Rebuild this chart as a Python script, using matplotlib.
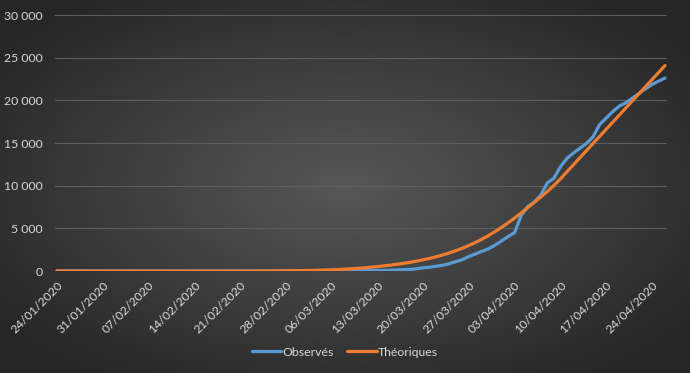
import numpy as np
import pandas as pd
import matplotlib
matplotlib.use('Agg')
import matplotlib.pyplot as plt
from matplotlib.ticker import FuncFormatter

plt.rcParams['font.family'] = ['Lato', 'DejaVu Sans']

# Dates (une valeur par jour, du 24/01/2020 au 26/04/2020)
dates = pd.date_range('2020-01-24', '2020-04-26', freq='D')

# Décès observés (cumul)
observes = ([0] * 23 + [1] * 11 + [2] * 4 +
            [2, 3, 4, 4, 6, 9, 11, 19, 25, 33, 48, 61, 79, 91, 127, 148, 175,
             264, 372, 450, 562, 674, 860, 1100, 1331, 1696, 1995, 2314, 2606,
             3024, 3523, 4032, 4503, 6507, 7560, 8078, 8911, 10328, 10869,
             12210, 13197, 13832, 14393, 14967, 15729, 17167, 17920, 18681,
             19323, 19718, 20265, 20796, 21340, 21856, 22245, 22614])

# Courbe théorique
theoriques = ([0] * 30 +
              [5, 8, 11, 15, 20, 27, 35, 45, 58, 73, 92, 115, 142, 175, 213,
               258, 310, 370, 438, 515,
               600, 690, 790, 900, 1020, 1160, 1310, 1480, 1670, 1880, 2120,
               2380, 2670, 2990, 3340, 3730, 4160, 4620, 5120, 5650, 6210,
               6800, 7420, 8040, 8670, 9320, 10020, 10800, 11630, 12460,
               13290, 14120, 14950, 15780, 16610, 17440, 18270, 19100, 19930,
               20760, 21590, 22420, 23250, 24080])

txt = '#d9d9d9'

fig = plt.figure(figsize=(6.9, 3.73), dpi=100)

# Fond dégradé radial
bg = fig.add_axes([0, 0, 1, 1])
yy, xx = np.mgrid[-1:1:373j, -1:1:690j]
r = np.clip(np.sqrt(xx**2 + yy**2) / 1.25, 0, 1)
c0 = np.array([0x57, 0x57, 0x57]) / 255
c1 = np.array([0x26, 0x26, 0x26]) / 255
img = c0[None, None, :] * (1 - r[..., None]) + c1[None, None, :] * r[..., None]
bg.imshow(img, aspect='auto', extent=[0, 1, 0, 1])
bg.axis('off')

ax = fig.add_axes([55 / 690, 1 - 271 / 373, 612 / 690, 256 / 373])
ax.patch.set_alpha(0)
x = np.arange(len(dates))
ax.plot(x, observes, color='#5B9BD5', lw=2.3, label='Observés',
        solid_joinstyle='round', solid_capstyle='round')
ax.plot(x, theoriques, color='#ED7D31', lw=2.3, label='Théoriques',
        solid_joinstyle='round', solid_capstyle='round')

ax.set_xlim(-0.3, len(dates) - 1 + 0.3)
ax.set_ylim(0, 30000)
ax.set_yticks(np.arange(0, 30001, 5000))
ax.yaxis.set_major_formatter(FuncFormatter(lambda v, p: f'{int(v):,}'.replace(',', ' ')))
ax.grid(axis='y', color='#5e5e5e', lw=0.8)
ax.set_axisbelow(True)
for s in ax.spines.values():
    s.set_visible(False)

ticks = x[::7]
ax.set_xticks(ticks)
ax.set_xticklabels([dates[i].strftime('%d/%m/%Y') for i in ticks],
                   rotation=45, ha='right', rotation_mode='anchor')
ax.tick_params(axis='both', length=0, colors=txt, labelsize=8.8)
ax.tick_params(axis='x', pad=6)
ax.tick_params(axis='y', pad=9)

leg = fig.legend(loc='center', bbox_to_anchor=(0.5, 1 - 352 / 373), ncol=2,
                 frameon=False, fontsize=8.8, handlelength=2.4,
                 handletextpad=0.1, columnspacing=1.1)
for t in leg.get_texts():
    t.set_color(txt)

fig.savefig('out.png', dpi=100)
